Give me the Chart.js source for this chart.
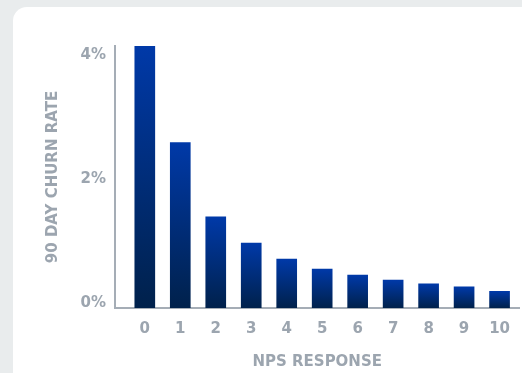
<!DOCTYPE html>
<html>
<head>
<meta charset="utf-8">
<script src="https://cdn.jsdelivr.net/npm/chart.js@4/dist/chart.umd.min.js"></script>
<style>
  html, body { margin: 0; padding: 0; }
  body { width: 522px; height: 373px; background: #e9eced; position: relative; overflow: hidden; }
  .card { position: absolute; left: 13px; top: 7px; width: 640px; height: 500px; background: #fff; border-radius: 14px; }
  .wrap { position: absolute; left: 0; top: 0; width: 522px; height: 373px; }
</style>
</head>
<body>
<div class="card"></div>
<div class="wrap"><canvas id="chart"></canvas></div>
<script>
/* ── Data ─────────────────────────────────────────────── */
const npsScores = [0, 1, 2, 3, 4, 5, 6, 7, 8, 9, 10];
const churnRate = [4.23, 2.67, 1.47, 1.05, 0.79, 0.63, 0.53, 0.45, 0.39, 0.34, 0.27];
const yTicks    = [0, 2, 4];

const AXIS  = '#a5adb6';
const TEXT  = '#9ca5af';
const FONT  = "'DejaVu Sans', sans-serif";

/* per-bar vertical gradient: bright blue at the top, navy at the base */
function barGradient(c) {
  const chart = c.chart;
  if (!chart.chartArea || !c.parsed) return '#002d7c';
  const y = chart.scales.y;
  const top = y.getPixelForValue(c.parsed.y);
  const base = y.getPixelForValue(0);
  const g = chart.ctx.createLinearGradient(0, top, 0, base);
  g.addColorStop(0, '#0039a8');
  g.addColorStop(1, '#00214b');
  return g;
}

new Chart(document.getElementById('chart'), {
  type: 'bar',
  data: {
    datasets: [{
      data: npsScores.map((s, i) => ({ x: s, y: churnRate[i] })),
      backgroundColor: barGradient,
      borderWidth: 0,
      barThickness: 20,
    }],
  },
  options: {
    responsive: true,
    maintainAspectRatio: false,
    animation: false,
    events: [],
    layout: { padding: { top: 46, right: 0, bottom: 0, left: 0 } },
    plugins: { legend: { display: false }, tooltip: { enabled: false } },
    scales: {
      x: {
        type: 'linear',
        offset: false,
        min: -0.84,
        max: 10.56,
        grid: { display: false, drawTicks: false, offset: false },
        border: { display: true, color: AXIS, width: 2 },
        ticks: {
          stepSize: 1,
          includeBounds: false,
          autoSkip: false,
          maxRotation: 0,
          padding: 12,
          color: TEXT,
          font: { family: FONT, size: 15, weight: 'bold' },
          callback: v => (Number.isInteger(v) && npsScores.includes(v)) ? String(v) : null,
        },
        title: {
          display: true,
          text: 'NPS RESPONSE',
          color: TEXT,
          font: { family: FONT, size: 15, weight: 'bold' },
          padding: { top: 0, bottom: 2 },
        },
        afterFit: s => { s.height = 65; },
      },
      y: {
        min: 0,
        max: Math.max(...churnRate),
        grid: { display: false, drawTicks: false },
        border: { display: true, color: AXIS, width: 2 },
        afterBuildTicks: s => { s.ticks = yTicks.map(v => ({ value: v })); },
        ticks: {
          padding: 9,
          labelOffset: -5,
          color: TEXT,
          font: { family: FONT, size: 15, weight: 'bold' },
          callback: v => v + '%',
        },
        title: {
          display: true,
          text: '90 DAY CHURN RATE',
          color: TEXT,
          font: { family: FONT, size: 15, weight: 'bold' },
          padding: { top: 44, bottom: 0 },
        },
        afterFit: s => { s.width = 115; },
      },
    },
  },
});
</script>
</body>
</html>
